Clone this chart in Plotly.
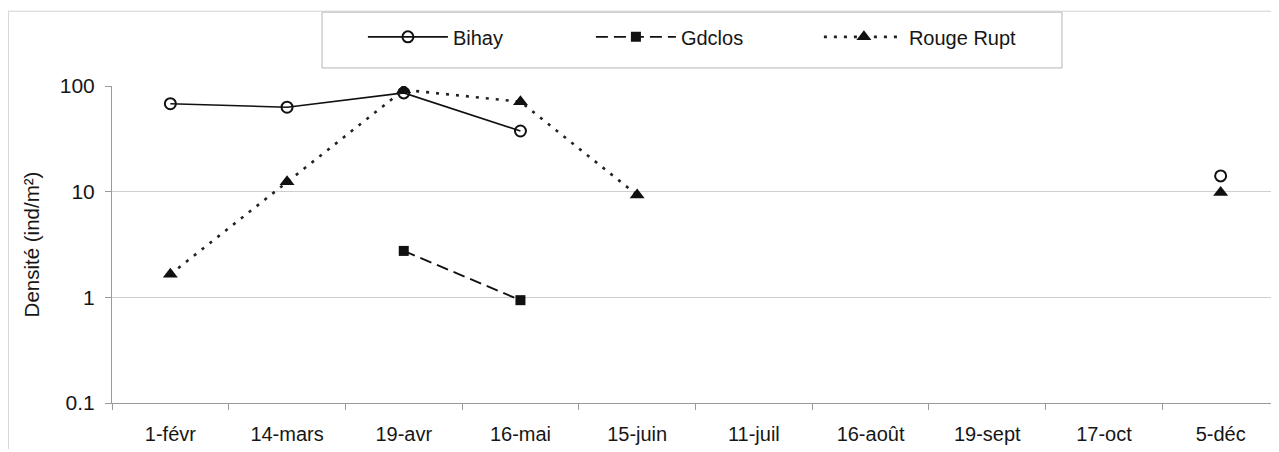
import plotly.graph_objects as go

categories = ["1-févr", "14-mars", "19-avr", "16-mai", "15-juin", "11-juil",
              "16-août", "19-sept", "17-oct", "5-déc"]
bihay = [68, 63, 86, 37.5, None, None, None, None, None, 14.1]
gdclos = [None, None, 2.75, 0.94, None, None, None, None, None, None]
rouge_rupt = [1.65, 12.4, 92, 71, 9.3, None, None, None, None, 9.8]
y_ticks = [0.1, 1, 10, 100]
y_tick_labels = ["0.1", "1", "10", "100"]

FONT = "Liberation Sans, Arial, sans-serif"
INK = "#161616"

fig = go.Figure()
fig.add_trace(go.Scatter(
    x=categories, y=bihay, name="Bihay", mode="lines+markers",
    line=dict(color="#111", width=1.6, dash="solid"),
    marker=dict(symbol="circle-open", size=11, color="#111", line=dict(width=2)),
    connectgaps=False))
fig.add_trace(go.Scatter(
    x=categories, y=gdclos, name="Gdclos", mode="lines+markers",
    line=dict(color="#111", width=1.8, dash="12px,6px"),
    marker=dict(symbol="square", size=10, color="#111"),
    connectgaps=False))
fig.add_trace(go.Scatter(
    x=categories, y=rouge_rupt, name="Rouge Rupt", mode="lines+markers",
    line=dict(color="#222", width=2.6, dash="3px,7px"),
    marker=dict(symbol="triangle-up", size=13, color="#111"),
    connectgaps=False))

fig.update_layout(
    width=1279, height=452,
    margin=dict(l=104, r=8, t=78, b=57),
    paper_bgcolor="white", plot_bgcolor="white",
    font=dict(family=FONT, size=20, color=INK),
    showlegend=True,
    legend=dict(orientation="h", x=0.215, xanchor="left", y=1.155, yanchor="middle",
                bgcolor="rgba(0,0,0,0)", itemwidth=80, entrywidth=133,
                font=dict(family=FONT, size=20, color=INK)),
    xaxis=dict(type="category", categoryorder="array", categoryarray=categories,
               range=[-0.5, 9.5], showgrid=False, showline=True, linecolor="#9a9a9a",
               linewidth=1, ticks="outside", tickson="boundaries", ticklen=6,
               tickcolor="#9a9a9a", tickfont=dict(size=20, color=INK), ticklabelstandoff=13),
    yaxis=dict(type="log", range=[-1, 2], tickvals=y_ticks, ticktext=y_tick_labels,
               showgrid=True, gridcolor="#cfcfcf", gridwidth=1,
               showline=True, linecolor="#9a9a9a", linewidth=1,
               ticks="outside", ticklen=6, tickcolor="#9a9a9a",
               tickfont=dict(size=21, color=INK), ticklabelstandoff=6,
               zeroline=False,
               title=dict(text="Densité (ind/m²)", font=dict(size=20.5, color=INK), standoff=14)),
    shapes=[
        dict(type="rect", xref="paper", yref="paper", x0=0.18, x1=0.814, y0=1.057, y1=1.233,
             line=dict(color="#b5b5b5", width=1), fillcolor="rgba(0,0,0,0)", layer="below"),
        dict(type="line", xref="paper", yref="paper", x0=-0.089, x1=-0.089, y0=-0.145, y1=1.236,
             line=dict(color="#c0c0c0", width=1)),
        dict(type="line", xref="paper", yref="paper", x0=-0.089, x1=1.0, y0=1.236, y1=1.236,
             line=dict(color="#d0d0d0", width=1)),
    ],
)

fig.write_html("out.html")
